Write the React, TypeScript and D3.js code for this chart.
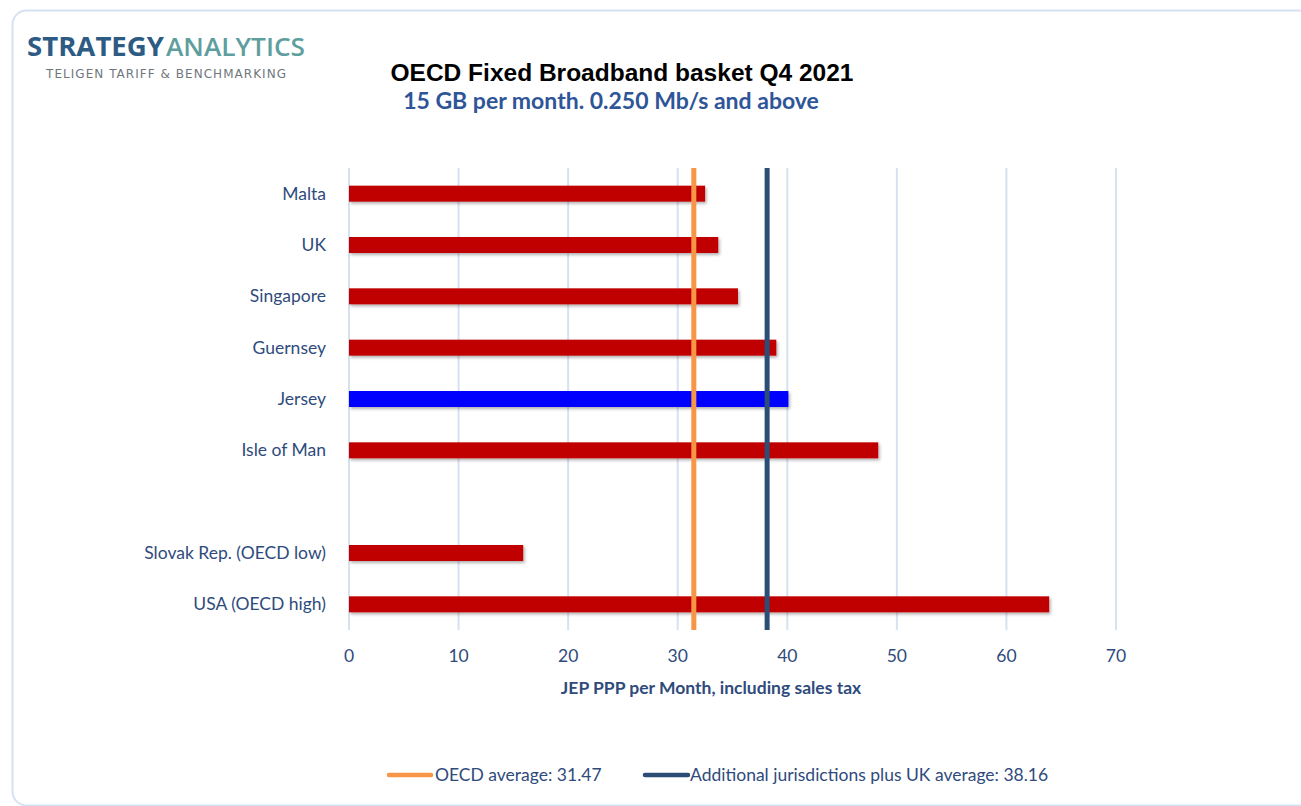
import React from "react";
import * as d3 from "d3";

const categories = ["Malta", "UK", "Singapore", "Guernsey", "Jersey", "Isle of Man", "", "Slovak Rep. (OECD low)", "USA (OECD high)"];
const values: (number | null)[] = [32.5, 33.7, 35.5, 39.0, 40.1, 48.3, null, 15.9, 63.9];
const highlight = ["Jersey"];
const xTicks = [0, 10, 20, 30, 40, 50, 60, 70];
const oecdAverage = 31.47;
const jurisdictionsAverage = 38.16;
const legendLabels = ["OECD average: 31.47", "Additional jurisdictions plus UK average: 38.16"];

const FONT = "Lato, 'Open Sans', sans-serif";
const LABEL_COLOR = "#2f4b7c";

export default function App() {
  const W = 1301, H = 806;
  const x = d3.scaleLinear().domain([0, 70]).range([349, 1116]);
  const keys = categories.map((c, i) => (c === "" ? `__gap${i}` : c));
  const y = d3.scaleBand<string>().domain(keys).range([168, 630]).padding(0);
  const barH = 16;
  const plotTop = 168, plotBottom = 630;

  return (
    <svg width={W} height={H} style={{ position: "absolute", left: 0, top: 0, background: "#fff" }}>
      <defs>
        <filter id="sh" x="-5%" y="-50%" width="110%" height="200%">
          <feDropShadow dx="1.5" dy="2" stdDeviation="1.5" floodColor="#000" floodOpacity="0.3" />
        </filter>
      </defs>
      <rect x={0} y={0} width={W} height={H} fill="#fff" />
      {/* frame */}
      <rect x={12.5} y={10.5} width={1300} height={795} rx={14} fill="none" stroke="#d5e2f3" strokeWidth={2} />

      {/* logo */}
      <text x={27} y={56} fontFamily="'Open Sans', sans-serif" fontSize={26} fontWeight={700} fill="#2d5b84"
        textLength={137} lengthAdjust="spacingAndGlyphs">STRATEGY</text>
      <text x={166} y={56} fontFamily="'Open Sans', sans-serif" fontSize={26} fontWeight={600} fill="#5f9e9e"
        textLength={139} lengthAdjust="spacingAndGlyphs">ANALYTICS</text>
      <text x={46} y={78} fontFamily="'DejaVu Sans', sans-serif" fontSize={12} fill="#6f777c"
        textLength={240} lengthAdjust="spacing">
        TELIGEN TARIFF &amp; BENCHMARKING
      </text>

      {/* titles */}
      <text x={622} y={81} textAnchor="middle" fontFamily="'Liberation Sans', Arial, sans-serif" fontWeight={700} fontSize={24.5} fill="#000">
        OECD Fixed Broadband basket Q4 2021
      </text>
      <text x={611} y={109} textAnchor="middle" fontFamily={FONT} fontWeight={700} fontSize={23} fill="#2e5597">
        15 GB per month. 0.250 Mb/s and above
      </text>

      {/* gridlines */}
      {xTicks.map((t) => (
        <line key={t} x1={x(t)} x2={x(t)} y1={plotTop} y2={plotBottom} stroke="#d6e2f2" strokeWidth={2} />
      ))}

      {/* bars */}
      {categories.map((c, i) => {
        const v = values[i];
        if (v == null) return null;
        const cy = (y(keys[i]) as number) + y.bandwidth() / 2;
        return (
          <rect key={c} x={x(0)} y={cy - barH / 2} width={x(v) - x(0)} height={barH}
            fill={highlight.includes(c) ? "#0000ff" : "#c00000"} filter="url(#sh)" />
        );
      })}

      {/* average lines */}
      <line x1={x(oecdAverage)} x2={x(oecdAverage)} y1={plotTop} y2={plotBottom} stroke="#f79646" strokeWidth={5} />
      <line x1={x(jurisdictionsAverage)} x2={x(jurisdictionsAverage)} y1={plotTop} y2={plotBottom} stroke="#2c4d75" strokeWidth={5} />

      {/* y labels */}
      {categories.map((c, i) =>
        c === "" ? null : (
          <text key={c} x={326} y={(y(keys[i]) as number) + y.bandwidth() / 2} dy="0.35em" textAnchor="end"
            fontFamily={FONT} fontSize={17.5} fill={LABEL_COLOR}>
            {c}
          </text>
        )
      )}

      {/* x ticks */}
      {xTicks.map((t) => (
        <text key={t} x={x(t)} y={662} textAnchor="middle" fontFamily={FONT} fontSize={17.5} fill={LABEL_COLOR}>
          {t}
        </text>
      ))}
      <text x={711} y={694} textAnchor="middle" fontFamily={FONT} fontWeight={700} fontSize={17.5} fill={LABEL_COLOR}>
        JEP PPP per Month, including sales tax
      </text>

      {/* legend */}
      <line x1={389} x2={431} y1={775} y2={775} stroke="#f79646" strokeWidth={4.5} strokeLinecap="round" />
      <text x={435} y={775} dy="0.35em" fontFamily={FONT} fontSize={17.5} fill={LABEL_COLOR}>{legendLabels[0]}</text>
      <line x1={645} x2={688} y1={775} y2={775} stroke="#2c4d75" strokeWidth={4.5} strokeLinecap="round" />
      <text x={690} y={775} dy="0.35em" fontFamily={FONT} fontSize={17.5} fill={LABEL_COLOR}>{legendLabels[1]}</text>
    </svg>
  );
}
